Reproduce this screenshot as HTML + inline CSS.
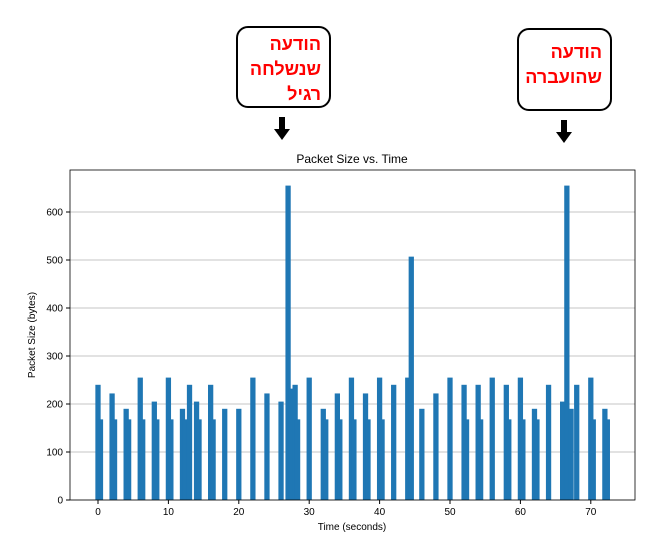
<!DOCTYPE html>
<html><head><meta charset="utf-8"><style>
body{margin:0;background:#fff;width:657px;height:544px;overflow:hidden;font-family:"Liberation Sans",sans-serif}
.box{position:absolute;border:2px solid #000;border-radius:12px;background:#fff;color:#f00;font-weight:bold;font-size:18px;line-height:25px;text-align:right;direction:rtl;font-family:"Liberation Sans","Noto Sans CJK SC",sans-serif;box-sizing:border-box;padding:4px 8px}
</style></head><body>
<div class="box" style="left:236px;top:26px;width:95px;height:82px">הודעה<br>שנשלחה<br>רגיל</div>
<div class="box" style="left:517px;top:28px;width:95px;height:83px;padding-top:10px">הודעה<br>שהועברה</div>
<svg width="657" height="544" style="position:absolute;left:0;top:0" id="chart">
<g><rect x="279" y="117" width="6" height="13" fill="#000"/><polygon points="274,129 290,129 282,140" fill="#000"/></g>
<g><rect x="561" y="120" width="6" height="13" fill="#000"/><polygon points="556,132 572,132 564,143" fill="#000"/></g>
<text x="352" y="163" font-size="12" text-anchor="middle">Packet Size vs. Time</text>
<text x="352" y="530" font-size="10" text-anchor="middle">Time (seconds)</text>
<text transform="translate(35,335) rotate(-90)" font-size="10" text-anchor="middle">Packet Size (bytes)</text>
<g id="grid"></g><g id="bars"></g><g id="axes"></g>
</svg>
<script>
const times=[0,0.35,2,2.35,4,4.35,6,6.35,8,8.35,10,10.35,12,12.35,13,14,14.35,16,16.35,18,20,22,24,26,27,27.5,28,28.35,30,32,32.35,34,34.35,36,36.35,38,38.35,40,40.35,42,44,44.5,46,48,50,52,52.35,54,54.35,56,58,58.35,60,60.35,62,62.35,64,66,66.6,67.2,68,70,70.35,72,72.35];
const sizes=[240,168,222,168,190,168,255,168,205,168,255,168,190,168,240,205,168,240,168,190,190,255,222,205,655,232,240,168,255,190,168,222,168,255,168,222,168,255,168,240,255,507,190,222,255,240,168,240,168,255,240,168,255,168,190,168,240,205,655,190,240,255,168,190,168];
const yTicks=[0,100,200,300,400,500,600];
const xTicks=[0,10,20,30,40,50,60,70];
const L=70,R=635,T=170,B=500;
const sx=v=>98+v*7.04, sy=v=>500-v*0.48;
const NS="http://www.w3.org/2000/svg";
function mk(tag,at,parent){const e=document.createElementNS(NS,tag);for(const k in at)e.setAttribute(k,at[k]);document.getElementById(parent).appendChild(e);return e;}
yTicks.forEach(v=>{
 const g=mk('line',{x1:L,x2:R,y1:sy(v),y2:sy(v),stroke:'#b0b0b0','stroke-width':0.8},'grid');
 
 
 mk('line',{x1:L-4,x2:L,y1:sy(v),y2:sy(v),stroke:'#000'},'axes');
 const t=mk('text',{x:L-7,y:sy(v)+3.5,'font-size':10,'text-anchor':'end'},'axes');t.textContent=v;
 
 
});
xTicks.forEach(v=>{
 mk('line',{x1:sx(v),x2:sx(v),y1:B,y2:B+4,stroke:'#000'},'axes');
 const t=mk('text',{x:sx(v),y:B+15,'font-size':10,'text-anchor':'middle'},'axes');t.textContent=v;
 
 
});
times.forEach((t,i)=>{
 const w=0.75*7.04;
 const r=mk('rect',{x:sx(t)-w/2,y:sy(sizes[i]),width:w,height:B-sy(sizes[i]),fill:'#1f77b4'},'bars');
 
 
});
const f=mk('rect',{x:L,y:T,width:R-L,height:B-T,fill:'none',stroke:'#000','stroke-width':0.8},'axes');


</script>
</body></html>
